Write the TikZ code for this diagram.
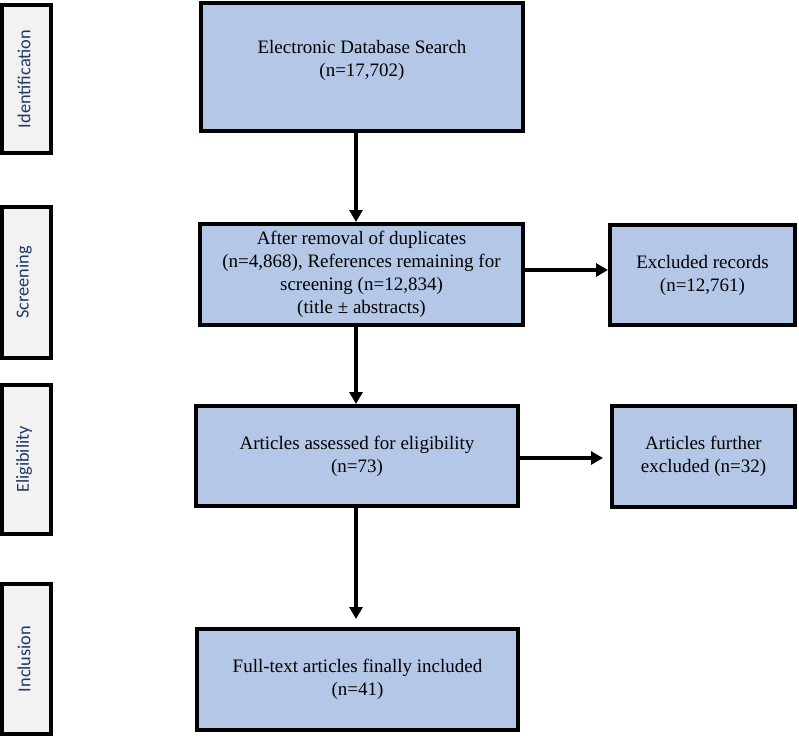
\documentclass[tikz,border=0pt]{standalone}
\usepackage{fontspec}
\setmainfont{Liberation Serif}
\newfontfamily\labfont{Carlito}
\usetikzlibrary{arrows.meta}
\definecolor{boxblue}{HTML}{B4C7E7}
\definecolor{labgrey}{HTML}{F2F2F2}
\definecolor{labtext}{HTML}{1F3864}
\tikzset{
  mainbox/.style={draw=black, line width=4pt, fill=boxblue, inner sep=0pt,
    align=center, font=\fontsize{19}{23}\selectfont},
  stagebox/.style={draw=black, line width=4pt, fill=labgrey, inner sep=0pt,
    minimum width=49pt},
  stagetext/.style={rotate=90, text=labtext, font=\labfont\fontsize{18.3}{22}\selectfont},
  arr/.style={line width=4pt, -{Triangle[width=13pt,length=12pt]}},
}
\begin{document}
\begin{tikzpicture}[x=1pt,y=-1pt]
\useasboundingbox (0,0) rectangle (799,737);
% stage labels
\node[stagebox, minimum height=148pt] (s1) at (26.5,79) {};
\node[stagetext] (t1) at (24,79) {Identification};
\node[stagebox, minimum height=151pt] (s2) at (26.5,282.5) {};
\node[stagetext] (t2) at (24,282.5) {Screening};
\node[stagebox, minimum height=149pt] (s3) at (26.5,459.5) {};
\node[stagetext] (t3) at (24,459.5) {Eligibility};
\node[stagebox, minimum height=150pt] (s4) at (26.5,659) {};
\node[stagetext] (t4) at (24,659) {Inclusion};
% main boxes
\node[mainbox, minimum width=322pt, minimum height=128pt] (b1) at (362,67)
  {Electronic Database Search\\(n=17,702)\\[-6pt]};
\node[mainbox, minimum width=323pt, minimum height=101pt] (b2) at (361.5,274.5)
  {After removal of duplicates\\(n=4,868), References remaining for\\screening (n=12,834)\\(title ± abstracts)};
\node[mainbox, minimum width=185pt, minimum height=100pt] (ex1) at (702.5,275)
  {Excluded records\\(n=12,761)};
\node[mainbox, minimum width=322pt, minimum height=100pt] (b3) at (357,456)
  {Articles assessed for eligibility\\(n=73)};
\node[mainbox, minimum width=183pt, minimum height=101pt] (ex2) at (703.5,456.5)
  {Articles further\\excluded (n=32)};
\node[mainbox, minimum width=321pt, minimum height=101pt] (b4) at (357.5,679.5)
  {Full-text articles finally included\\(n=41)};
% connectors
\coordinate (ax) at (356,0);
\coordinate (ay1) at (0,270);
\coordinate (ay2) at (0,458);
\draw[arr] (b1.south -| ax) -- (b2.north -| ax);
\draw[arr] (b2.south -| ax) -- (b3.north -| ax);
\draw[arr, shorten >=8pt] (b3.south -| ax) -- (b4.north -| ax);
\draw[arr] (b2.east |- ay1) -- (ex1.west |- ay1);
\draw[arr, shorten >=7pt] (b3.east |- ay2) -- (ex2.west |- ay2);
\end{tikzpicture}
\end{document}
